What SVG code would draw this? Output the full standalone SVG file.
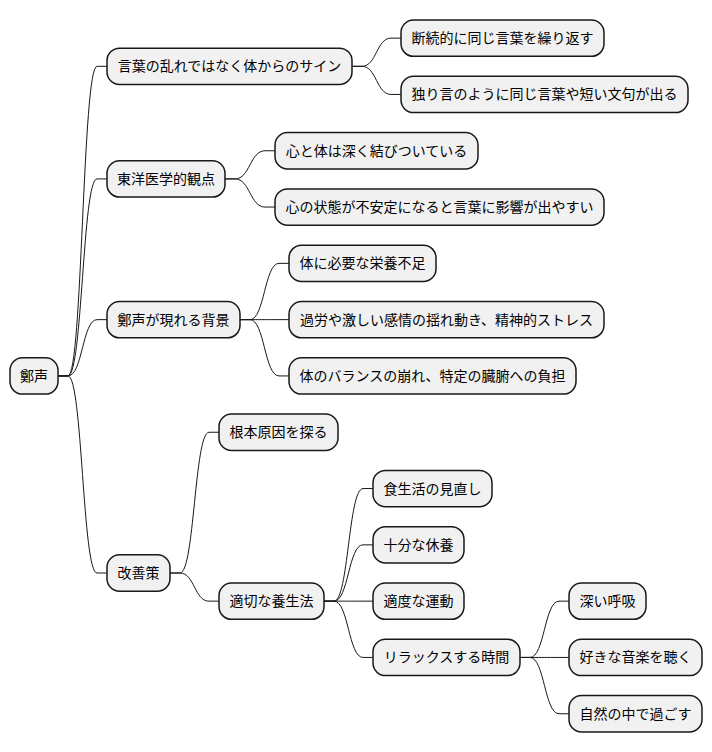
<svg xmlns="http://www.w3.org/2000/svg" width="712" height="752" viewBox="0 0 712 752">
<style>
.n rect{fill:#F1F1F1;stroke:#181818;stroke-width:1.5}
.n text{font-family:"Noto Sans CJK JP","Noto Sans",sans-serif;font-size:14px;fill:#000;text-anchor:middle}
.c path{fill:none;stroke:#181818;stroke-width:1}
</style>
<rect width="712" height="752" fill="#fff"/>
<g class="c" id="connectors">
<path d="M58 375.95 H68 C82.5 375.95 82.5 66.3 97 66.3 H107"/>
<path d="M58 375.95 H68 C82.5 375.95 82.5 178.9 97 178.9 H107"/>
<path d="M58 375.95 H68 C82.5 375.95 82.5 319.65 97 319.65 H107"/>
<path d="M58 375.95 H68 C82.5 375.95 82.5 573 97 573 H107"/>
<path d="M352 66.3 H362 C376.5 66.3 376.5 38.15 391 38.15 H401"/>
<path d="M352 66.3 H362 C376.5 66.3 376.5 94.45 391 94.45 H401"/>
<path d="M225 178.9 H235 C250 178.9 250 150.75 265 150.75 H275"/>
<path d="M225 178.9 H235 C250 178.9 250 207.05 265 207.05 H275"/>
<path d="M240 319.65 H250 C264.5 319.65 264.5 263.35 279 263.35 H289"/>
<path d="M240 319.65 H250 C264.5 319.65 264.5 319.65 279 319.65 H289"/>
<path d="M240 319.65 H250 C264.5 319.65 264.5 375.95 279 375.95 H289"/>
<path d="M170 573 H180 C194.5 573 194.5 432.25 209 432.25 H219"/>
<path d="M170 573 H180 C194.5 573 194.5 601.15 209 601.15 H219"/>
<path d="M324 601.15 H334 C348.5 601.15 348.5 488.55 363 488.55 H373"/>
<path d="M324 601.15 H334 C348.5 601.15 348.5 544.85 363 544.85 H373"/>
<path d="M324 601.15 H334 C348.5 601.15 348.5 601.15 363 601.15 H373"/>
<path d="M324 601.15 H334 C348.5 601.15 348.5 657.45 363 657.45 H373"/>
<path d="M520 657.45 H530 C544.5 657.45 544.5 601.15 559 601.15 H569"/>
<path d="M520 657.45 H530 C544.5 657.45 544.5 657.45 559 657.45 H569"/>
<path d="M520 657.45 H530 C544.5 657.45 544.5 713.75 559 713.75 H569"/>
</g>
<g class="n" id="root"><rect x="10" y="357.8" width="48" height="36.3" rx="12.5"/><text x="34" y="381">鄭声</text></g>
<g class="n" id="n1"><rect x="107" y="48.15" width="245" height="36.3" rx="12.5"/><text x="229.5" y="71.3">言葉の乱れではなく体からのサイン</text></g>
<g class="n" id="n1a"><rect x="401" y="20" width="203" height="36.3" rx="12.5"/><text x="502.5" y="43.15">断続的に同じ言葉を繰り返す</text></g>
<g class="n" id="n1b"><rect x="401" y="76.3" width="287" height="36.3" rx="12.5"/><text x="544.5" y="99.45">独り言のように同じ言葉や短い文句が出る</text></g>
<g class="n" id="n2"><rect x="107" y="160.75" width="118" height="36.3" rx="12.5"/><text x="166" y="183.9">東洋医学的観点</text></g>
<g class="n" id="n2a"><rect x="275" y="132.6" width="203" height="36.3" rx="12.5"/><text x="376.5" y="155.75">心と体は深く結びついている</text></g>
<g class="n" id="n2b"><rect x="275" y="188.9" width="329" height="36.3" rx="12.5"/><text x="439.5" y="212.05">心の状態が不安定になると言葉に影響が出やすい</text></g>
<g class="n" id="n3"><rect x="107" y="301.5" width="133" height="36.3" rx="12.5"/><text x="173.5" y="324.65">鄭声が現れる背景</text></g>
<g class="n" id="n3a"><rect x="289" y="245.2" width="147" height="36.3" rx="12.5"/><text x="362.5" y="268.35">体に必要な栄養不足</text></g>
<g class="n" id="n3b"><rect x="289" y="301.5" width="315" height="36.3" rx="12.5"/><text x="446.5" y="324.65">過労や激しい感情の揺れ動き、精神的ストレス</text></g>
<g class="n" id="n3c"><rect x="289" y="357.8" width="287" height="36.3" rx="12.5"/><text x="432.5" y="380.95">体のバランスの崩れ、特定の臓腑への負担</text></g>
<g class="n" id="n4"><rect x="107" y="554.85" width="63" height="36.3" rx="12.5"/><text x="138.5" y="578">改善策</text></g>
<g class="n" id="n4a"><rect x="219" y="414.1" width="119" height="36.3" rx="12.5"/><text x="278.5" y="437.25">根本原因を探る</text></g>
<g class="n" id="n4b"><rect x="219" y="583" width="105" height="36.3" rx="12.5"/><text x="271.5" y="606.15">適切な養生法</text></g>
<g class="n" id="n4b1"><rect x="373" y="470.4" width="119" height="36.3" rx="12.5"/><text x="432.5" y="493.55">食生活の見直し</text></g>
<g class="n" id="n4b2"><rect x="373" y="526.7" width="91" height="36.3" rx="12.5"/><text x="418.5" y="549.85">十分な休養</text></g>
<g class="n" id="n4b3"><rect x="373" y="583" width="91" height="36.3" rx="12.5"/><text x="418.5" y="606.15">適度な運動</text></g>
<g class="n" id="n4b4"><rect x="373" y="639.3" width="147" height="36.3" rx="12.5"/><text x="446.5" y="662.45">リラックスする時間</text></g>
<g class="n" id="n4b4a"><rect x="569" y="583" width="77" height="36.3" rx="12.5"/><text x="607.5" y="606.15">深い呼吸</text></g>
<g class="n" id="n4b4b"><rect x="569" y="639.3" width="133" height="36.3" rx="12.5"/><text x="635.5" y="662.45">好きな音楽を聴く</text></g>
<g class="n" id="n4b4c"><rect x="569" y="695.6" width="133" height="36.3" rx="12.5"/><text x="635.5" y="718.75">自然の中で過ごす</text></g>
</svg>
